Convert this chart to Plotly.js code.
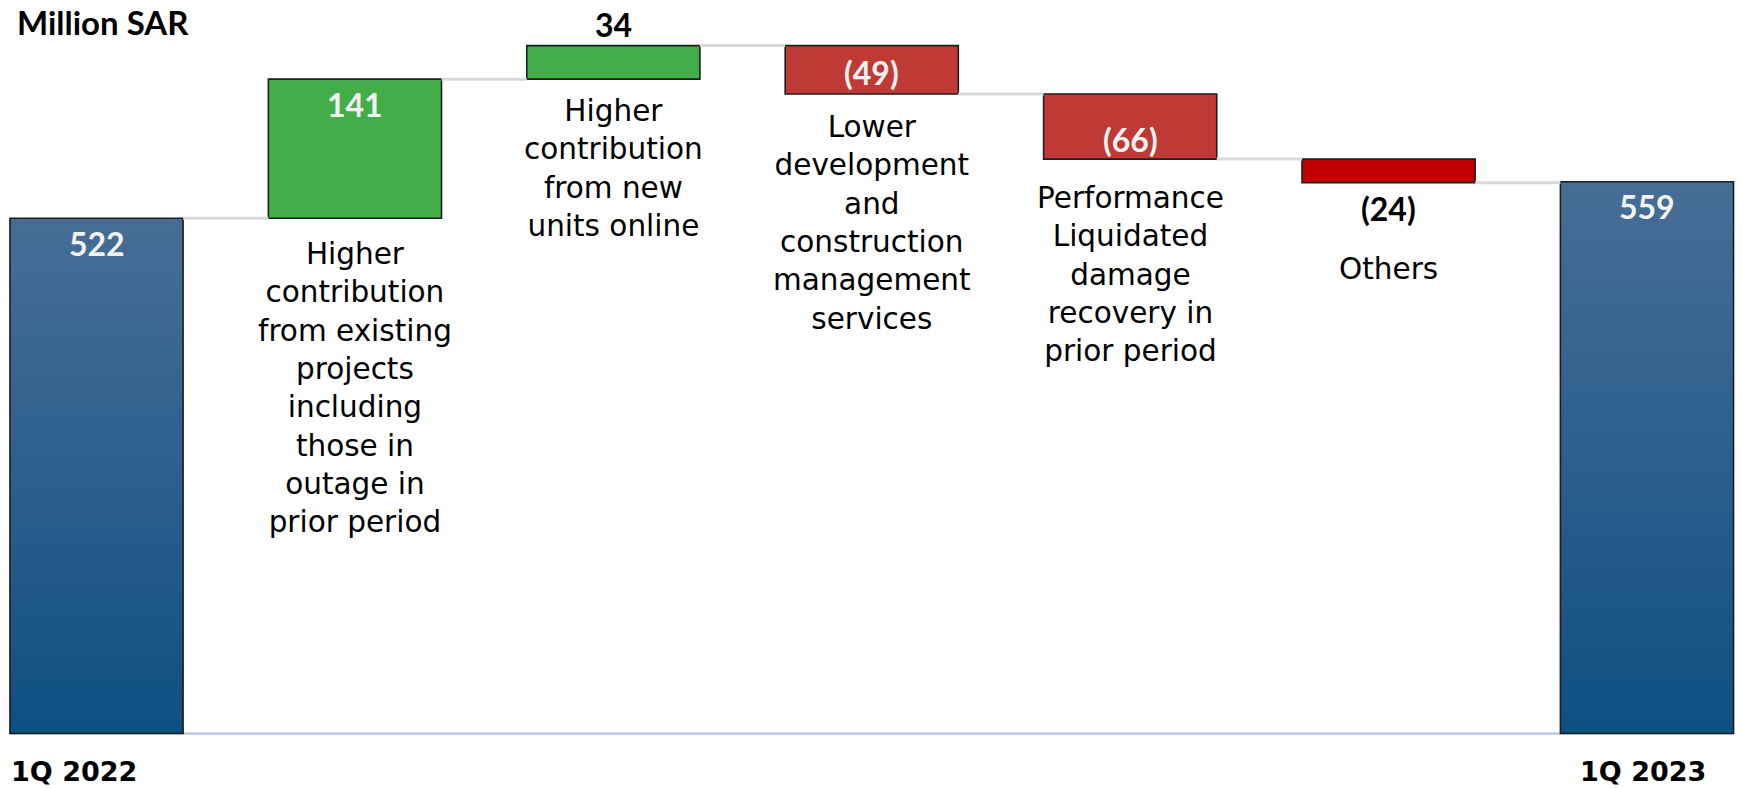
<!DOCTYPE html>
<html>
<head>
<meta charset="utf-8">
<script src="https://cdn.plot.ly/plotly-3.0.1.min.js"></script>
<style>html,body{margin:0;padding:0;background:#fff;} #chart{width:1742px;height:788px;}</style>
</head>
<body>
<div id="chart"></div>
<script>
// ---- data ----
const startLabel = "1Q 2022";
const endLabel = "1Q 2023";
const startValue = 522;
const endValue = 559;
const deltaValues = [141, 34, -49, -66, -24];
const deltaTexts = ["141", "34", "(49)", "(66)", "(24)"];
const deltaDescriptions = [
  "Higher<br>contribution<br>from existing<br>projects<br>including<br>those in<br>outage in<br>prior period",
  "Higher<br>contribution<br>from new<br>units online",
  "Lower<br>development<br>and<br>construction<br>management<br>services",
  "Performance<br>Liquidated<br>damage<br>recovery in<br>prior period",
  "Others"
];
const deltaColors = ["#43ad4a", "#43ad4a", "#bf3a34", "#bf3a34", "#c00000"];
const unitLabel = "Million SAR";

// ---- derived ----
const n = deltaValues.length;
const bases = [];
let run = startValue;
deltaValues.forEach(v => { bases.push(v >= 0 ? run : run + v); run += v; });
const levels = [startValue];
run = startValue;
deltaValues.forEach(v => { run += v; levels.push(run); });

const halfW = 0.335;
const xTot = [0, n + 1];
const xDel = deltaValues.map((_, i) => i + 1);

const connX = [], connY = [];
for (let i = 0; i <= n; i++) {
  connX.push(i + halfW, i + 1 - halfW, null);
  connY.push(levels[i], levels[i], null);
}

const edge = {color: "#1e1e1e", width: 1.6};
const traces = [
  {type: "scatter", mode: "lines", x: connX, y: connY,
   line: {color: "#d9d9d9", width: 3}, hoverinfo: "skip", showlegend: false},
  {type: "bar", x: xTot, y: [startValue, endValue], base: [0, 0], width: 2 * halfW,
   marker: {color: "#2a5f8e", line: edge}, hoverinfo: "skip", showlegend: false},
  {type: "bar", x: xDel, y: deltaValues.map(Math.abs), base: bases, width: 2 * halfW,
   marker: {color: deltaColors, line: edge}, hoverinfo: "skip", showlegend: false}
];

const numFont = {family: "Lato, 'Open Sans', sans-serif", size: 32, color: "#f2f2f2", weight: 700};
const numFontDark = Object.assign({}, numFont, {color: "#000000"});
const descFont = {family: "'DejaVu Sans', sans-serif", size: 29.5, color: "#000000"};

const ann = [];
// totals labels
ann.push({x: 0, y: startValue, text: String(startValue), showarrow: false, yanchor: "middle", yshift: -25, font: numFont});
ann.push({x: n + 1, y: endValue, text: String(endValue), showarrow: false, yanchor: "middle", yshift: -25, font: numFont});
// delta value labels
const labelPlace = [
  {ref: "top", shift: -25, dark: false},
  {ref: "top", shift: 21, dark: true},
  {ref: "top", shift: -27, dark: false},
  {ref: "bottom", shift: 20, dark: false},
  {ref: "bottom", shift: -26, dark: true}
];
const descShift = [-17, -13, -14, -20, -67];
deltaValues.forEach((v, i) => {
  const top = bases[i] + Math.abs(v);
  const bot = bases[i];
  const p = labelPlace[i];
  ann.push({x: i + 1, y: p.ref === "top" ? top : bot, text: deltaTexts[i], showarrow: false,
    yanchor: "middle", yshift: p.shift, font: p.dark ? numFontDark : numFont});
  ann.push({x: i + 1, y: bot, text: deltaDescriptions[i], showarrow: false, yanchor: "top",
    yshift: descShift[i], align: "center", font: descFont});
});
// category labels at bottom
const catFont = {family: "'DejaVu Sans', sans-serif", size: 27, color: "#000000", weight: 700};
ann.push({x: 0, y: 0, text: startLabel, showarrow: false, xanchor: "center", yanchor: "middle", yshift: -38, xshift: -23, font: catFont});
ann.push({x: n + 1, y: 0, text: endLabel, showarrow: false, xanchor: "center", yanchor: "middle", yshift: -38, xshift: -4, font: catFont});
// unit label
ann.push({xref: "paper", yref: "paper", x: 0, y: 1, xanchor: "left", yanchor: "middle", xshift: 15, yshift: -22,
  text: unitLabel, showarrow: false, font: {family: "Lato, 'Open Sans', sans-serif", size: 33, color: "#000000", weight: 700}});

const layout = {
  width: 1742, height: 788,
  margin: {l: 0, r: 0, t: 0, b: 0},
  paper_bgcolor: "#ffffff", plot_bgcolor: "#ffffff",
  barmode: "overlay",
  showlegend: false,
  xaxis: {range: [-0.3735, n + 1 + 0.3677], visible: false, fixedrange: true},
  yaxis: {range: [-55.2, 743.2], visible: false, fixedrange: true},
  shapes: [{type: "line", xref: "x", yref: "y", x0: -halfW, x1: n + 1 + halfW, y0: 0, y1: 0,
    line: {color: "#a9c2db", width: 2}, layer: "below"}],
  annotations: ann
};

Plotly.newPlot("chart", traces, layout, {displayModeBar: false, staticPlot: true}).then(gd => {
  const svg = gd.querySelector(".main-svg");
  const ns = "http://www.w3.org/2000/svg";
  let defs = svg.querySelector("defs");
  if (!defs) { defs = document.createElementNS(ns, "defs"); svg.insertBefore(defs, svg.firstChild); }
  const g = document.createElementNS(ns, "linearGradient");
  g.setAttribute("id", "totGrad");
  g.setAttribute("x1", "0"); g.setAttribute("y1", "0");
  g.setAttribute("x2", "0"); g.setAttribute("y2", "1");
  [["0%", "#476d96"], ["50%", "#2c5f8d"], ["100%", "#0e4f82"]].forEach(([o, c]) => {
    const s = document.createElementNS(ns, "stop");
    s.setAttribute("offset", o); s.setAttribute("stop-color", c);
    g.appendChild(s);
  });
  defs.appendChild(g);
  const barTraces = gd.querySelectorAll(".barlayer .trace");
  if (barTraces.length) {
    barTraces[0].querySelectorAll("path").forEach(p => { p.style.fill = "url(#totGrad)"; });
  }
});
</script>
</body>
</html>
